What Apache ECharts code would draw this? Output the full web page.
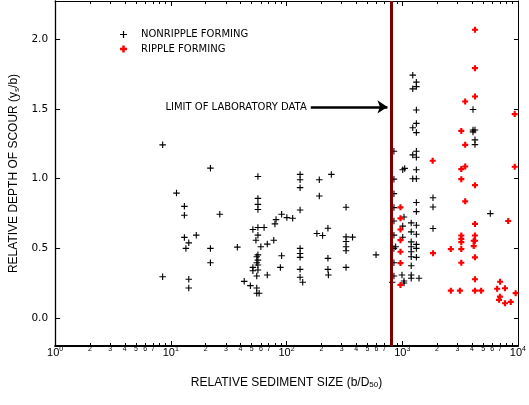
<!DOCTYPE html>
<html><head><meta charset="utf-8">
<script src="https://cdn.jsdelivr.net/npm/echarts@6/dist/echarts.min.js"></script>
<style>html,body{margin:0;padding:0;background:#fff}#c{width:529px;height:405px}</style>
</head><body><div id="c"></div>
<script>
// Relative sediment size (b/D50), relative depth of scour (ys/b)
const nonripple = [
  [8.5,1.243],[8.5,0.297],[11.2,0.897],[13.1,0.802],[13.1,0.738],[13.1,0.579],[13.5,0.5],
  [14.3,0.54],[14.3,0.279],[14.3,0.216],[16.6,0.595],[22,1.076],[22,0.5],[22,0.397],
  [26.5,0.745],[37.6,0.509],[43.1,0.264],[48.7,0.233],[51.2,0.636],[51.2,0.364],[51.2,0.34],
  [54.4,0.559],[55.3,0.216],[55.3,0.178],[55.3,0.44],[55.3,0.397],[55.3,0.302],
  [56.6,1.016],[56.6,0.859],[56.6,0.816],[56.6,0.779],[56.6,0.65],[56.6,0.595],[56.6,0.454],
  [56.6,0.416],[56.6,0.381],[56.6,0.345],[58,0.178],[60,0.512],[64,0.65],[68.2,0.531],[68.2,0.309],
  [77.6,0.559],[79.4,0.676],[81.2,0.707],[88.5,0.364],[90.7,0.745],[90.7,0.447],[100.7,0.721],
  [113,0.716],[131,1.031],[131,0.993],[131,0.936],[131,0.776],[131,0.5],[131,0.464],[131,0.436],
  [131,0.35],[131,0.293],[138,0.257],[183,0.607],[192,0.993],[192,0.876],[205,0.593],
  [228,0.645],[228,0.429],[228,0.35],[230,0.309],[244,1.031],[327,0.795],[327,0.583],[327,0.55],
  [327,0.512],[327,0.483],[327,0.364],[372,0.581],[594,0.454],
  [820,0.257],[848,1.197],[848,0.997],[848,0.893],[848,0.793],[848,0.697],[848,0.595],[848,0.5],
  [848,0.397],[848,0.302],[877,0.512],[995,0.309],[1010,1.064],[1050,1.074],[1036,0.725],
  [1010,0.66],[1010,0.58],[1036,0.266],[1036,0.252],
  [1196,0.683],[1196,0.619],[1196,0.547],[1196,0.512],[1196,0.476],[1196,0.44],[1196,0.376],
  [1196,0.309],[1196,0.286],[1233,1.743],[1233,1.645],[1233,1.366],[1233,1.171],[1233,1.0],
  [1325,1.693],[1325,1.661],[1325,1.493],[1325,1.397],[1325,1.331],[1325,1.197],[1325,1.154],
  [1325,1.064],[1325,1.0],[1325,0.829],[1325,0.764],[1325,0.666],[1325,0.602],[1325,0.529],
  [1325,0.5],[1325,0.436],[1397,0.286],[1845,0.864],[1845,0.797],[1845,0.643],
  [4090,1.497],[4090,1.35],[4253,1.35],[4090,1.336],[4253,1.279],[4253,1.245],[5770,0.75]
];
const ripple = [
  [966,0.795],[966,0.716],[966,0.636],[966,0.559],[966,0.476],[966,0.395],[966,0.238],
  [1833,1.129],[1845,0.466],[2630,0.495],[2630,0.197],
  [3240,1.343],[3240,1.069],[3240,0.997],[3240,0.593],[3240,0.569],[3240,0.545],[3240,0.495],
  [3240,0.397],[3150,0.197],[3500,1.554],[3500,1.243],[3500,1.088],[3500,0.838],
  [4253,2.069],[4253,1.793],[4253,1.59],[4253,0.954],[4253,0.676],[4253,0.593],[4150,0.555],
  [4253,0.555],[4150,0.517],[4253,0.436],[4253,0.279],[4253,0.197],[4810,0.197],
  [7010,0.261],[6610,0.211],[7730,0.214],[6990,0.154],[6860,0.131],[7730,0.107],[8670,0.116],
  [9550,0.179],[8240,0.697],[9380,1.464],[9380,1.086]
];
const labLimit = 800;
const arrowFrom = [162, 1.515];
const arrowTo = [745, 1.515];
const xDecades = [1, 10, 100, 1000, 10000];
const xMinorDigits = [2, 3, 4, 5, 6, 7, 8, 9];
const xLabelDigits = [2, 3, 4, 5, 6, 7];
const yTicks = [0, 0.5, 1.0, 1.5, 2.0];

const xMinorTicks = [];
const xLabelValues = [];
xDecades.forEach(function (d, i) {
  xLabelValues.push(d);
  if (i < xDecades.length - 1) {
    xMinorDigits.forEach(function (m) { xMinorTicks.push(m * d); });
    xLabelDigits.forEach(function (m) { xLabelValues.push(m * d); });
  }
});

const PLUS = 'path://M2.9,0H4.1V2.9H7V4.1H4.1V7H2.9V4.1H0V2.9H2.9Z';
const BLOB = 'path://M1.6,0H3.4V1.6H5V3.4H3.4V5H1.6V3.4H0V1.6H1.6Z';
const SANS = 'Liberation Sans, Arial, sans-serif';
const WIDE = 'DejaVu Sans, sans-serif';

function xLabel(v) {
  const e = Math.round(Math.log10(v));
  if (Math.abs(v - Math.pow(10, e)) < 1e-6 * v) return '{b|10}{s|' + e + '}';
  const d = Math.round(v / Math.pow(10, Math.floor(Math.log10(v) + 1e-9)));
  return '{m|' + d + '}';
}

function xAxisDef(pos, ticks, len, lineW, showLabel) {
  return {
    type: 'log', logBase: 10, min: 1, max: 10000, position: pos,
    axisLine: { show: lineW > 0, onZero: false, lineStyle: { color: '#000', width: lineW } },
    axisTick: { show: true, inside: true, length: len, customValues: ticks, lineStyle: { color: '#000', width: 1 } },
    splitLine: { show: false }, minorTick: { show: false },
    axisLabel: showLabel ? {
      show: true, margin: 0, customValues: xLabelValues, formatter: xLabel, color: '#000',
      rich: {
        b: { fontFamily: SANS, fontSize: 11, lineHeight: 14, color: '#000' },
        s: { fontFamily: SANS, fontSize: 7, lineHeight: 8, verticalAlign: 'top', color: '#000' },
        m: { fontFamily: SANS, fontSize: 7, lineHeight: 7, color: '#000' }
      }
    } : { show: false }
  };
}

const chart = echarts.init(document.getElementById('c'), null, { renderer: 'canvas' });
chart.setOption({
  animation: false,
  backgroundColor: '#fff',
  grid: { left: 50, right: 5.5, top: 1, bottom: 59 },
  legend: {
    orient: 'vertical', left: 115, top: 24.5, itemWidth: 7, itemHeight: 7, itemGap: 4.5,
    textStyle: { fontFamily: WIDE, fontSize: 10, lineHeight: 10, color: '#000', padding: [0, 0, 0, 9] },
    data: [{ name: 'NONRIPPLE FORMING', icon: PLUS }, { name: 'RIPPLE FORMING', icon: BLOB }]
  },
  xAxis: [
    Object.assign(xAxisDef('bottom', xDecades, 5, 2, true), {
      name: 'RELATIVE SEDIMENT SIZE (b/D{sub|50})', nameLocation: 'middle', nameGap: 30,
      nameTextStyle: { fontFamily: SANS, fontSize: 12, color: '#000', verticalAlign: 'top',
        rich: { sub: { fontFamily: SANS, fontSize: 8, verticalAlign: 'bottom', padding: [5, 0, 0, 0], color: '#000' } } }
    }),
    xAxisDef('bottom', xMinorTicks, 3, 0, false),
    xAxisDef('top', xDecades, 5, 1, false),
    xAxisDef('top', xMinorTicks, 3, 0, false)
  ],
  yAxis: [
    {
      type: 'value', min: -0.2, max: 2.275, position: 'left',
      axisLine: { show: true, onZero: false, lineStyle: { color: '#000', width: 1.3 } },
      axisTick: { show: true, inside: true, length: 5, customValues: yTicks, lineStyle: { color: '#000' } },
      axisLabel: { show: true, margin: 7, customValues: yTicks, color: '#000',
        fontFamily: WIDE, fontSize: 10.5,
        formatter: function (v) { return v.toFixed(1); } },
      splitLine: { show: false },
      name: '{n|RELATIVE DEPTH OF SCOUR (y}{sub|s}{n|/b)}', nameLocation: 'middle', nameGap: 29, nameRotate: 90,
      nameTextStyle: { color: '#000',
        rich: {
          n: { fontFamily: SANS, fontSize: 12, color: '#000' },
          sub: { fontFamily: SANS, fontSize: 8, verticalAlign: 'bottom', padding: [5, 0, 0, 0], color: '#000' }
        } }
    },
    {
      type: 'value', min: -0.2, max: 2.275, position: 'right',
      axisLine: { show: true, onZero: false, lineStyle: { color: '#000', width: 1 } },
      axisTick: { show: true, inside: true, length: 4, customValues: yTicks, lineStyle: { color: '#000' } },
      axisLabel: { show: false }, splitLine: { show: false }
    }
  ],
  series: [
    {
      name: 'NONRIPPLE FORMING', type: 'scatter', xAxisIndex: 0, yAxisIndex: 0,
      symbol: PLUS, symbolSize: 6.5, itemStyle: { color: '#000', opacity: 1 },
      data: nonripple, z: 3,
      markLine: {
        silent: true, animation: false,
        data: [
          { xAxis: labLimit, symbol: 'none', lineStyle: { color: '#7d0000', width: 3, type: 'solid' }, label: { show: false } },
          [
            { coord: arrowFrom, symbol: 'none' },
            { coord: arrowTo, symbol: 'arrow', symbolSize: 10 }
          ]
        ],
        symbol: ['none', 'none'],
        lineStyle: { color: '#000', width: 2.5, type: 'solid' },
        label: { show: true, position: 'start', distance: 4, formatter: 'LIMIT OF LABORATORY DATA',
          color: '#000', fontFamily: WIDE, fontSize: 10 }
      }
    },
    {
      name: 'RIPPLE FORMING', type: 'scatter', xAxisIndex: 0, yAxisIndex: 0,
      symbol: BLOB, symbolSize: 6, itemStyle: { color: '#ff0000', opacity: 1 },
      data: ripple, z: 4
    }
  ]
});
</script>
</body></html>
